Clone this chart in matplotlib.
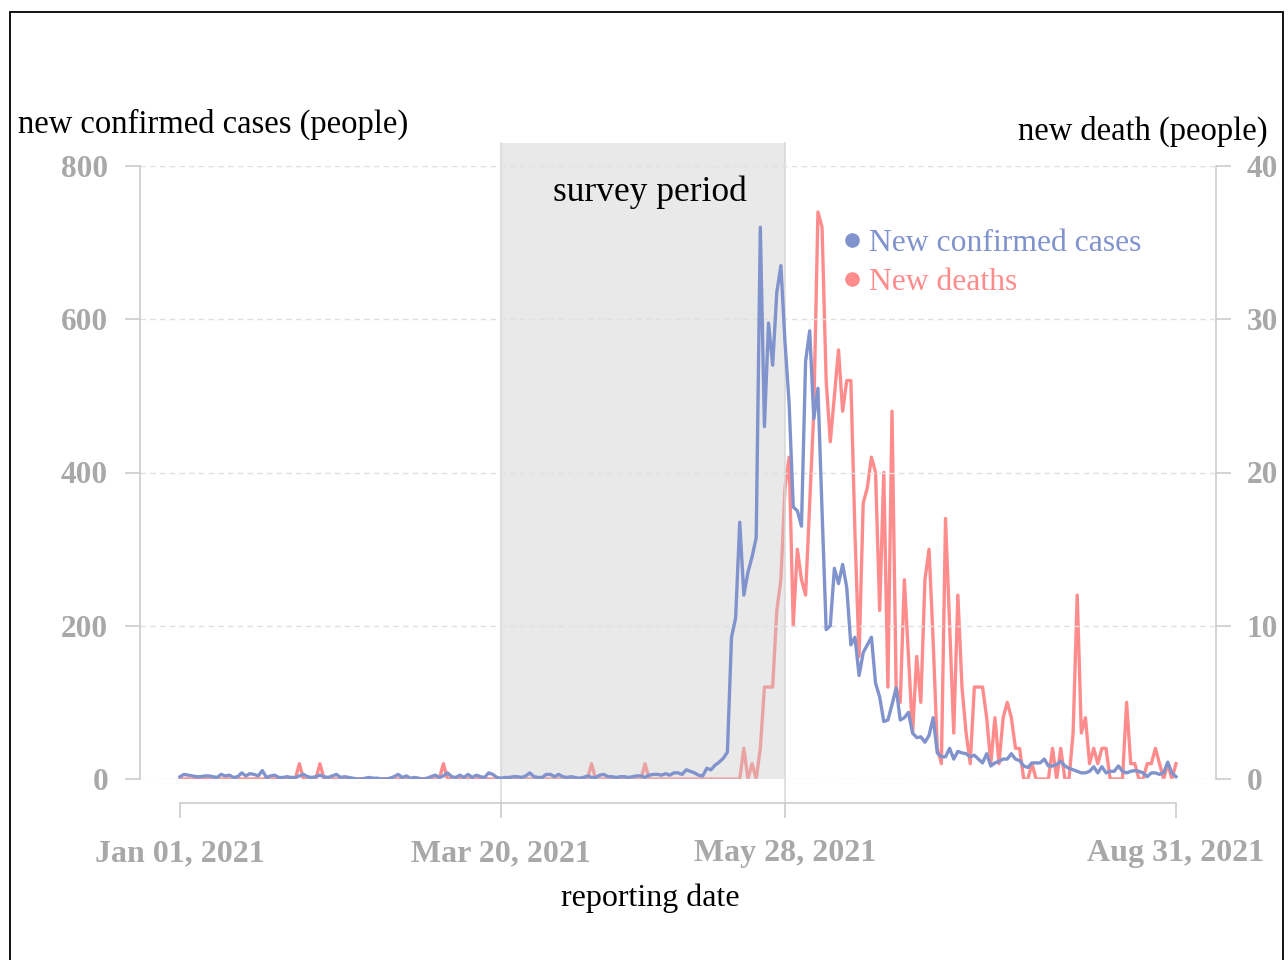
import matplotlib
matplotlib.use('Agg')
import matplotlib.pyplot as plt
import matplotlib.dates as mdates
from matplotlib.lines import Line2D
from matplotlib.patches import Rectangle
import pandas as pd

plt.rcParams['font.family'] = ['Liberation Serif', 'DejaVu Serif']

# daily data, Jan 01 - Aug 31 2021
dates = pd.date_range('2021-01-01', '2021-08-31', freq='D')
cases = [
    3, 6, 5, 4, 3, 3, 4, 4, 3, 2,
    6, 4, 5, 2, 3, 8, 4, 7, 6, 4,
    11, 2, 4, 5, 2, 2, 3, 2, 2, 4,
    6, 3, 2, 3, 5, 3, 2, 4, 6, 2,
    3, 2, 1, 0, 0, 1, 2, 1, 1, 0,
    0, 1, 3, 6, 2, 4, 1, 2, 1, 0,
    1, 3, 5, 2, 4, 8, 3, 2, 5, 2,
    6, 2, 5, 3, 2, 8, 6, 2, 1, 2,
    2, 3, 3, 2, 4, 8, 3, 2, 2, 6,
    6, 3, 6, 3, 2, 3, 2, 1, 2, 4,
    2, 2, 5, 6, 3, 3, 2, 3, 3, 2,
    3, 4, 4, 2, 5, 6, 6, 5, 7, 5,
    8, 8, 6, 12, 10, 8, 5, 4, 14, 12,
    18, 22, 27, 35, 185, 210, 335, 240, 270, 290,
    315, 720, 460, 595, 540, 635, 670, 570, 490, 355,
    350, 330, 545, 585, 470, 510, 350, 195, 200, 275,
    255, 280, 250, 175, 185, 135, 165, 175, 185, 125,
    107, 75, 77, 97, 119, 77, 80, 87, 60, 54,
    55, 48, 57, 80, 34, 29, 29, 40, 26, 36,
    34, 33, 29, 31, 26, 21, 33, 17, 21, 23,
    26, 26, 33, 26, 24, 17, 15, 21, 21, 21,
    26, 17, 17, 19, 23, 17, 14, 12, 10, 8,
    8, 10, 16, 8, 16, 8, 10, 10, 17, 10,
    8, 10, 11, 10, 8, 3, 8, 8, 6, 8,
    22, 8, 3,
]
deaths = [
    0, 0, 0, 0, 0, 0, 0, 0, 0, 0,
    0, 0, 0, 0, 0, 0, 0, 0, 0, 0,
    0, 0, 0, 0, 0, 0, 0, 0, 0, 1,
    0, 0, 0, 0, 1, 0, 0, 0, 0, 0,
    0, 0, 0, 0, 0, 0, 0, 0, 0, 0,
    0, 0, 0, 0, 0, 0, 0, 0, 0, 0,
    0, 0, 0, 0, 1, 0, 0, 0, 0, 0,
    0, 0, 0, 0, 0, 0, 0, 0, 0, 0,
    0, 0, 0, 0, 0, 0, 0, 0, 0, 0,
    0, 0, 0, 0, 0, 0, 0, 0, 0, 0,
    1, 0, 0, 0, 0, 0, 0, 0, 0, 0,
    0, 0, 0, 1, 0, 0, 0, 0, 0, 0,
    0, 0, 0, 0, 0, 0, 0, 0, 0, 0,
    0, 0, 0, 0, 0, 0, 0, 2, 0, 1,
    0, 2, 6, 6, 6, 11, 13, 19, 21, 10,
    15, 13, 12, 18, 24, 37, 36, 26, 22, 25,
    28, 24, 26, 26, 16, 8, 18, 19, 21, 20,
    11, 20, 6, 24, 6, 5, 13, 8, 3, 8,
    5, 13, 15, 9, 2, 1, 17, 10, 3, 12,
    6, 3, 1, 6, 6, 6, 4, 1, 4, 1,
    4, 5, 4, 2, 2, 0, 0, 1, 0, 0,
    0, 0, 2, 0, 2, 0, 0, 3, 12, 3,
    4, 1, 2, 1, 2, 2, 0, 0, 0, 0,
    5, 1, 1, 0, 0, 1, 1, 2, 1, 0,
    1, 0, 1,
]
case_ticks = [0, 200, 400, 600, 800]
death_ticks = [0, 10, 20, 30, 40]
tick_dates = pd.to_datetime(['2021-01-01', '2021-03-20', '2021-05-28', '2021-08-31'])
tick_labels = ['Jan 01, 2021', 'Mar 20, 2021', 'May 28, 2021', 'Aug 31, 2021']
survey = (pd.Timestamp('2021-03-20'), pd.Timestamp('2021-05-28'))

blue = '#8093CC'
red = '#FF8C8C'
tickc = '#a8a8a8'
spinec = '#c8c8c8'

W, H = 1288, 960
fig = plt.figure(figsize=(W / 100, H / 100), dpi=100)
ax = fig.add_axes([140 / W, 1 - 779 / H, 1076 / W, 613 / H])
ax2 = ax.twinx()
ax.set_zorder(ax2.get_zorder() + 1)
ax.patch.set_visible(False)

pad = pd.Timedelta(days=9.72)
ax.set_xlim(dates[0] - pad, dates[-1] + pad)
ax.set_ylim(0, 800)
ax2.set_ylim(0, 40)

# survey period band (drawn over the deaths line, like the original)
x0 = mdates.date2num(survey[0])
x1 = mdates.date2num(survey[1])
ax2.add_patch(Rectangle((x0, 0), x1 - x0, 41.5, facecolor='#c8c8c8', alpha=0.4,
                        edgecolor='none', zorder=3, clip_on=False))
for xv in (x0, x1):
    ax2.plot([xv, xv], [-1.57, 41.5], color='#d8d8d8', lw=1.1, zorder=3, clip_on=False)

ax2.plot(dates, deaths, color=red, lw=2.4, zorder=2)
ax.plot(dates, cases, color=blue, lw=2.4, zorder=2)

# grid
ax.set_axisbelow(True)
ax.yaxis.grid(True, linestyle=(0, (4, 3)), color='#e0e0e0', linewidth=1.0)
ax.xaxis.grid(False)

# spines
for s in ('top', 'right'):
    ax.spines[s].set_visible(False)
for s in ('top', 'left', 'bottom'):
    ax2.spines[s].set_visible(False)
ax.spines['left'].set_bounds(0, 800)
ax.spines['left'].set_color(spinec)
ax.spines['left'].set_linewidth(1.1)
ax.spines['bottom'].set_position(('outward', 17.3))
ax.spines['bottom'].set_bounds(mdates.date2num(dates[0]), mdates.date2num(dates[-1]))
ax.spines['bottom'].set_color(spinec)
ax.spines['bottom'].set_linewidth(1.1)
ax2.spines['right'].set_bounds(0, 40)
ax2.spines['right'].set_color(spinec)
ax2.spines['right'].set_linewidth(1.1)

ax.set_yticks(case_ticks, [str(v) for v in case_ticks], fontweight='bold')
ax2.set_yticks(death_ticks, [str(v) for v in death_ticks], fontweight='bold')
ax.set_xticks(tick_dates, tick_labels, fontweight='bold')
ax.tick_params(axis='y', direction='out', length=11, width=1.1, color=spinec,
               pad=12, labelsize=22.5, labelcolor=tickc)
ax2.tick_params(axis='y', direction='out', length=11, width=1.1, color=spinec,
                pad=11, labelsize=22.5, labelcolor=tickc)
ax.tick_params(axis='x', direction='out', length=11, width=1.1, color=spinec,
               pad=15, labelsize=23, labelcolor=tickc)

# titles
fig.text(18 / W, 1 - 124 / H, 'new confirmed cases (people)', fontsize=23.5,
         ha='left', va='center', color='black')
fig.text(1268 / W, 1 - 131 / H, 'new death (people)', fontsize=23.5,
         ha='right', va='center', color='black')
fig.text(650 / W, 1 - 898 / H, 'reporting date', fontsize=23,
         ha='center', va='center', color='black')
fig.text(650 / W, 1 - 192 / H, 'survey period', fontsize=25.5,
         ha='center', va='center', color='black', zorder=5)

# legend
handles = [Line2D([], [], marker='o', linestyle='none', markersize=9.5, color=blue),
           Line2D([], [], marker='o', linestyle='none', markersize=9.5, color=red)]
fig.legend(handles, ['New confirmed cases', 'New deaths'], loc='upper left',
           bbox_to_anchor=(842 / W, 1 - 229 / H), frameon=False, fontsize=22.8,
           labelcolor='markerfacecolor', handlelength=0.6, handletextpad=0.25,
           labelspacing=0.32, borderpad=0, borderaxespad=0)

# outer frame
fig.add_artist(Rectangle((10 / W, -0.02), 1273 / W, 1 - 12 / H + 0.02,
                         transform=fig.transFigure, fill=False,
                         edgecolor='black', linewidth=1.3))

fig.savefig('out.png', dpi=100)
